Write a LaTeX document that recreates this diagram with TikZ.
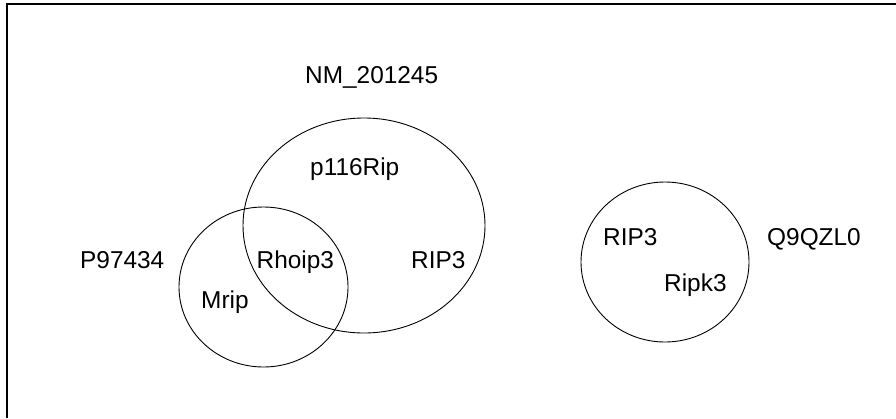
\documentclass[tikz,border=0pt]{standalone}
\usepackage{fontspec}
\setmainfont{Liberation Sans}
\usetikzlibrary{shapes.geometric}
\begin{document}
\begin{tikzpicture}[x=1pt,y=-1pt,
  setring/.style={draw=black,line width=0.9pt,ellipse,inner sep=0pt,fill=none},
  lbl/.style={anchor=base west,inner sep=0pt,font=\fontsize{24.4}{29}\selectfont},
  frameline/.style={draw=black,line width=1.6pt}]
\useasboundingbox (0,0) rectangle (896,418);
% outer frame (left and top edges)
\coordinate (fbl) at (7,418);
\coordinate (ftl) at (7,4);
\coordinate (ftr) at (896,4);
\draw[frameline] (fbl) -- (ftl) -- (ftr);
% sets
\node[setring,minimum width=242pt,minimum height=215pt] (nm) at (364,225.5) {};
\node[setring,minimum width=169pt,minimum height=160pt] (pp) at (263.5,287) {};
\node[setring,minimum width=168pt,minimum height=160pt] (qq) at (665,262) {};
% set names
\node[lbl] (nmname) at (305,83) {NM\_201245};
\node[lbl] (ppname) at (80,268) {P97434};
\node[lbl] (qqname) at (767,245) {Q9QZL0};
% members
\node[lbl] (m1) at (310,175) {p116Rip};
\node[lbl] (m2) at (256.5,268) {Rhoip3};
\node[lbl] (m3) at (411,268) {RIP3};
\node[lbl] (m4) at (201,308) {Mrip};
\node[lbl] (m5) at (603,245) {RIP3};
\node[lbl] (m6) at (664,291.5) {Ripk3};
\end{tikzpicture}
\end{document}
